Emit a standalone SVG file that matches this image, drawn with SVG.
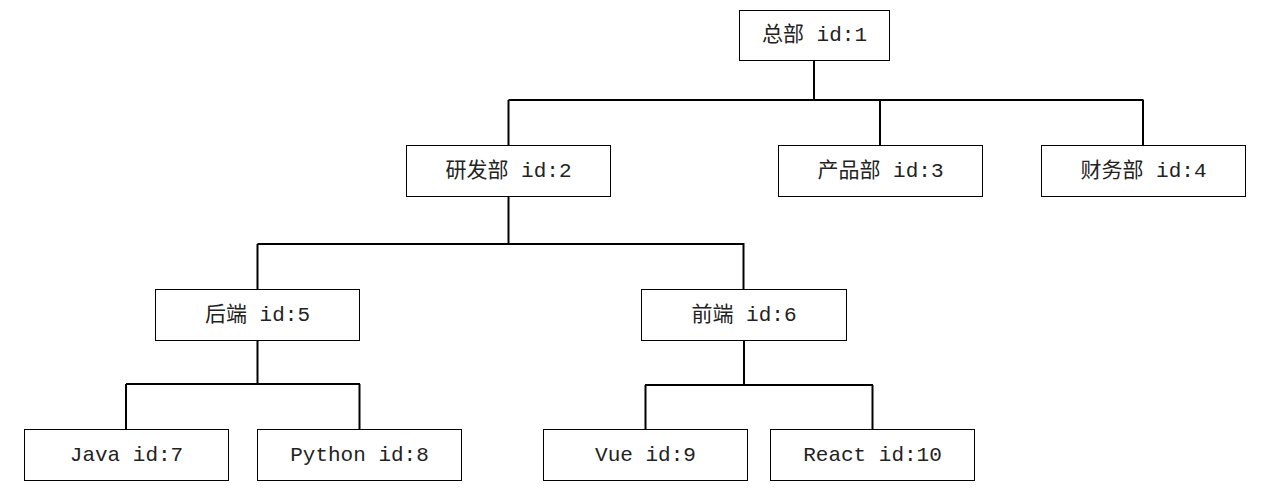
<svg xmlns="http://www.w3.org/2000/svg" width="1278" height="501" viewBox="0 0 1278 501">
<style>
.box{fill:#fff;stroke:#000;stroke-width:1}
.lbl{font-family:"Liberation Mono","Noto Sans CJK SC",monospace;font-size:21px;fill:#222;text-anchor:middle;dominant-baseline:central}
.conn{fill:none;stroke:#000;stroke-width:2}
</style>
<rect width="1278" height="501" fill="#fff"/>
<g id="connectors">
<path class="conn" d="M814,60V100M508.5,100H1143.5M508.5,100V145M880,100V145M1143,100V145"/>
<path class="conn" d="M508.5,196V244M257.5,244H744.5M257.5,244V290M743.5,244V290"/>
<path class="conn" d="M257.5,340V384M126,384H360M126,384V429M359.5,384V429"/>
<path class="conn" d="M744,340V385M645,385H873M645.5,385V429M872.5,385V429"/>
</g>
<g id="n1"><rect class="box" x="739.5" y="10.5" width="150" height="50"/><text class="lbl" x="814.5" y="35.5">总部 id:1</text></g>
<g id="n2"><rect class="box" x="406.5" y="145.5" width="204" height="51"/><text class="lbl" x="508.5" y="171">研发部 id:2</text></g>
<g id="n3"><rect class="box" x="778.5" y="145.5" width="204" height="51"/><text class="lbl" x="880.5" y="171">产品部 id:3</text></g>
<g id="n4"><rect class="box" x="1041.5" y="145.5" width="204" height="51"/><text class="lbl" x="1143.5" y="171">财务部 id:4</text></g>
<g id="n5"><rect class="box" x="155.5" y="289.5" width="204" height="51"/><text class="lbl" x="257.5" y="315">后端 id:5</text></g>
<g id="n6"><rect class="box" x="641.5" y="289.5" width="205" height="51"/><text class="lbl" x="744" y="315">前端 id:6</text></g>
<g id="n7"><rect class="box" x="24.5" y="429.5" width="204" height="51"/><text class="lbl" x="126.5" y="455">Java id:7</text></g>
<g id="n8"><rect class="box" x="257.5" y="429.5" width="204" height="51"/><text class="lbl" x="359.5" y="455">Python id:8</text></g>
<g id="n9"><rect class="box" x="543.5" y="429.5" width="204" height="51"/><text class="lbl" x="645.5" y="455">Vue id:9</text></g>
<g id="n10"><rect class="box" x="770.5" y="429.5" width="204" height="51"/><text class="lbl" x="872.5" y="455">React id:10</text></g>
</svg>
